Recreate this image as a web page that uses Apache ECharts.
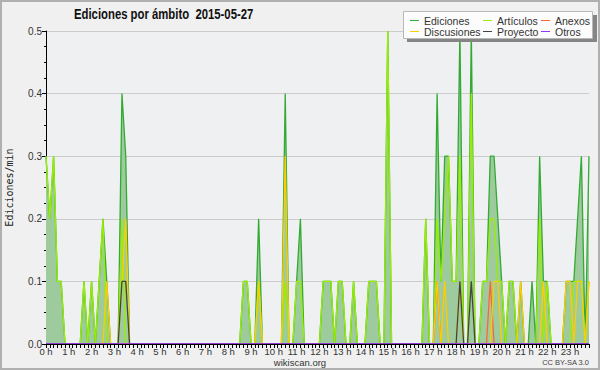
<!DOCTYPE html>
<html><head><meta charset="utf-8">
<script src="https://cdn.jsdelivr.net/npm/echarts@6/dist/echarts.min.js"></script>
<style>html,body{margin:0;padding:0;background:#f0f0f0}#c{width:600px;height:370px}</style>
</head><body><div id="c"></div>
<script>
// 10-minute slots of 2015-05-27 (0 .. 143)
const slots = [];
for (let i = 0; i < 144; i++) slots.push(String(i));
const hourLabels = ['0 h','1 h','2 h','3 h','4 h','5 h','6 h','7 h','8 h','9 h','10 h','11 h','12 h','13 h','14 h','15 h','16 h','17 h','18 h','19 h','20 h','21 h','22 h','23 h'];
const yTicks = [0, 0.1, 0.2, 0.3, 0.4, 0.5];

const ediciones = [
  0.3,0.2,0.3,0.1,0.1,0, 0,0,0,0,0.1,0,
  0.1,0,0.1,0.2,0.1,0, 0,0,0.4,0.3,0,0,
  0,0,0,0,0,0, 0,0,0,0,0,0,
  0,0,0,0,0,0, 0,0,0,0,0,0,
  0,0,0,0,0.1,0.1, 0,0,0.2,0,0,0,
  0,0,0,0.4,0,0, 0.1,0.2,0,0,0,0,
  0,0.1,0.1,0.1,0,0.1, 0.1,0,0,0.1,0,0,
  0,0.1,0.1,0.1,0,0, 0.5,0,0,0,0,0,
  0,0,0,0,0.2,0, 0,0.4,0.1,0.3,0.3,0.1,
  0.1,0.5,0,0,0.5,0, 0,0.1,0.1,0.3,0.3,0.2,
  0.1,0,0.1,0.1,0,0.1, 0,0,0.1,0,0.3,0.1,
  0.1,0,0,0,0,0.1, 0.1,0.1,0.2,0.3,0,0.3
];
const articulos = [
  0.3,0.2,0.3,0.1,0.1,0, 0,0,0,0,0.1,0,
  0.1,0,0.1,0.2,0,0, 0,0,0.2,0,0,0,
  0,0,0,0,0,0, 0,0,0,0,0,0,
  0,0,0,0,0,0, 0,0,0,0,0,0,
  0,0,0,0,0.1,0.1, 0,0,0.1,0,0,0,
  0,0,0,0.1,0,0, 0.1,0.1,0,0,0,0,
  0,0.1,0.1,0.1,0,0.1, 0.1,0,0,0.1,0,0,
  0,0.1,0.1,0.1,0,0, 0.5,0,0,0,0,0,
  0,0,0,0,0.2,0, 0,0.2,0.1,0.2,0.3,0.1,
  0.1,0.3,0,0,0.4,0, 0,0.1,0.1,0.2,0.2,0.1,
  0.1,0,0.1,0.1,0,0, 0,0,0,0,0.2,0,
  0.1,0,0,0,0,0, 0,0.1,0.1,0.1,0,0.1
];
const anexos = [
  0,0,0,0,0,0, 0,0,0,0,0,0,
  0,0,0,0,0,0, 0,0,0,0,0,0,
  0,0,0,0,0,0, 0,0,0,0,0,0,
  0,0,0,0,0,0, 0,0,0,0,0,0,
  0,0,0,0,0,0, 0,0,0,0,0,0,
  0,0,0,0,0,0, 0,0,0,0,0,0,
  0,0,0,0,0,0, 0,0,0,0,0,0,
  0,0,0,0,0,0, 0,0,0,0,0,0,
  0,0,0,0,0,0, 0,0.1,0,0,0,0,
  0,0,0,0,0,0, 0,0,0,0.1,0,0,
  0,0,0,0,0,0, 0,0,0,0,0,0,
  0,0,0,0,0,0, 0,0,0,0,0,0
];
const discusiones = [
  0,0,0,0,0,0, 0,0,0,0,0,0,
  0,0,0,0,0.1,0, 0,0,0.1,0.2,0,0,
  0,0,0,0,0,0, 0,0,0,0,0,0,
  0,0,0,0,0,0, 0,0,0,0,0,0,
  0,0,0,0,0,0, 0,0,0.1,0,0,0,
  0,0,0,0.3,0,0, 0,0,0,0,0,0,
  0,0,0,0,0,0, 0,0,0,0,0,0,
  0,0,0,0,0,0, 0,0,0,0,0,0,
  0,0,0,0,0,0, 0,0.1,0,0.1,0,0,
  0,0.1,0,0,0,0, 0,0,0,0,0.1,0.1,
  0,0,0,0,0,0.1, 0,0,0,0,0,0.1,
  0,0,0,0,0,0.1, 0.1,0,0.1,0.1,0,0.1
];
const proyecto = [
  0,0,0,0,0,0, 0,0,0,0,0,0,
  0,0,0,0,0,0, 0,0,0.1,0.1,0,0,
  0,0,0,0,0,0, 0,0,0,0,0,0,
  0,0,0,0,0,0, 0,0,0,0,0,0,
  0,0,0,0,0,0, 0,0,0,0,0,0,
  0,0,0,0,0,0, 0,0,0,0,0,0,
  0,0,0,0,0,0, 0,0,0,0,0,0,
  0,0,0,0,0,0, 0,0,0,0,0,0,
  0,0,0,0,0,0, 0,0,0,0,0,0,
  0,0.1,0,0,0.1,0, 0,0,0,0,0,0,
  0,0,0,0,0,0, 0,0,0,0,0,0,
  0,0,0,0,0,0, 0,0,0,0,0,0
];
const otros = [
  0,0,0,0,0,0, 0,0,0,0,0,0,
  0,0,0,0,0,0, 0,0,0,0,0,0,
  0,0,0,0,0,0, 0,0,0,0,0,0,
  0,0,0,0,0,0, 0,0,0,0,0,0,
  0,0,0,0,0,0, 0,0,0,0,0,0,
  0,0,0,0,0,0, 0,0,0,0,0,0,
  0,0,0,0,0,0, 0,0,0,0,0,0,
  0,0,0,0,0,0, 0,0,0,0,0,0,
  0,0,0,0,0,0, 0,0,0,0,0,0,
  0,0,0,0,0,0, 0,0,0,0,0,0,
  0,0,0,0,0,0, 0,0,0,0,0,0,
  0,0,0,0,0,0, 0,0,0,0,0,0
];

const seriesNames = ['Ediciones','Artículos','Anexos','Discusiones','Proyecto','Otros'];
const seriesData = [ediciones, articulos, anexos, discusiones, proyecto, otros];
const seriesColors = ['#33aa33','#99ee00','#ff6633','#ffcc00','#444444','#9933ff'];

const FONT = "'Liberation Sans', Arial, sans-serif";
const chart = echarts.init(document.getElementById('c'), null, {renderer:'svg'});

const series = seriesNames.map((name, k) => {
  const s = {
    name, type:'line', data: seriesData[k], symbol:'none', showSymbol:false, smooth:false,
    animation:false, z: 2 + k,
    lineStyle:{color: seriesColors[k], width: 1.3},
    itemStyle:{color: seriesColors[k]},
    emphasis:{disabled:true}
  };
  if (k === 0) s.areaStyle = {color:'#9dcb9d', opacity:1};
  return s;
});

const legendCommon = {
  orient:'vertical', top:15, padding:0, itemGap:0, itemWidth:9, itemHeight:1,
  icon:'rect', selectedMode:false, z:20,
  textStyle:{fontFamily:FONT, fontSize:10.5, color:'#333', lineHeight:9.5}
};

chart.setOption({
  backgroundColor:'#f0f0f0',
  animation:false,
  grid:{left:46, right:11, top:31, bottom:26, backgroundColor:'#eef0f1', show:true, borderWidth:0,
        containLabel:false, outerBoundsMode:'none'},
  legend:[
    Object.assign({data:['Ediciones','Discusiones'], left:410}, legendCommon),
    Object.assign({data:['Artículos','Proyecto'], left:483}, legendCommon),
    Object.assign({data:['Anexos','Otros'], left:541}, legendCommon)
  ],
  xAxis:{
    type:'category', data:slots, boundaryGap:false, z:10,
    axisLine:{show:true, lineStyle:{color:'#000', width:1}},
    axisTick:{show:true, interval:0, length:4, lineStyle:{color:'#000'}},
    axisLabel:{
      interval:(i) => i % 6 === 0, margin:2,
      formatter:(v, i) => hourLabels[i / 6],
      fontFamily:FONT, fontSize:9.5, color:'#333'
    },
    splitLine:{show:false}
  },
  yAxis:{
    type:'value', min:yTicks[0], max:yTicks[yTicks.length-1], interval:0.1,
    name:'Ediciones/min', nameLocation:'middle', nameGap:32, nameRotate:90,
    nameTextStyle:{fontFamily:"'DejaVu Sans Mono', monospace", fontSize:10, color:'#222'},
    axisLine:{show:true, lineStyle:{color:'#000'}},
    axisTick:{show:true, length:4, lineStyle:{color:'#000'}},
    minorTick:{show:true, splitNumber:4, length:2, lineStyle:{color:'#000'}},
    axisLabel:{margin:4, formatter:(v) => v.toFixed(1), fontFamily:FONT, fontSize:10, color:'#333'},
    splitLine:{show:true, lineStyle:{color:'#cccccc', width:1}}
  },
  graphic:[
    {type:'rect', z:100, shape:{x:1, y:1, width:598, height:368}, style:{fill:'none', stroke:'#b0b0b0', lineWidth:2}},
    {type:'rect', z:15, shape:{x:407, y:15, width:190, height:27}, style:{fill:'#858585'}},
    {type:'rect', z:16, shape:{x:403.5, y:11.5, width:189, height:27}, style:{fill:'#fcfcfc', stroke:'#b8b8b8', lineWidth:1}},
    {type:'text', z:16, x:74, y:14, scaleX:0.81, originX:0, originY:0,
      style:{text:'Ediciones por ámbito  2015-05-27', x:0, y:0, textAlign:'left', textVerticalAlign:'middle',
        font:"bold 14px 'Liberation Sans', sans-serif", fill:'#111'}},
    {type:'text', z:16, style:{text:'wikiscan.org', x:300, y:362.5, textAlign:'center', textVerticalAlign:'middle', font:"9.5px 'Liberation Sans', sans-serif", fill:'#333'}},
    {type:'text', z:16, style:{text:'CC BY-SA 3.0', x:589, y:362.5, textAlign:'right', textVerticalAlign:'middle', font:"7.5px 'Liberation Sans', sans-serif", fill:'#444'}}
  ],
  series
});
</script></body></html>
